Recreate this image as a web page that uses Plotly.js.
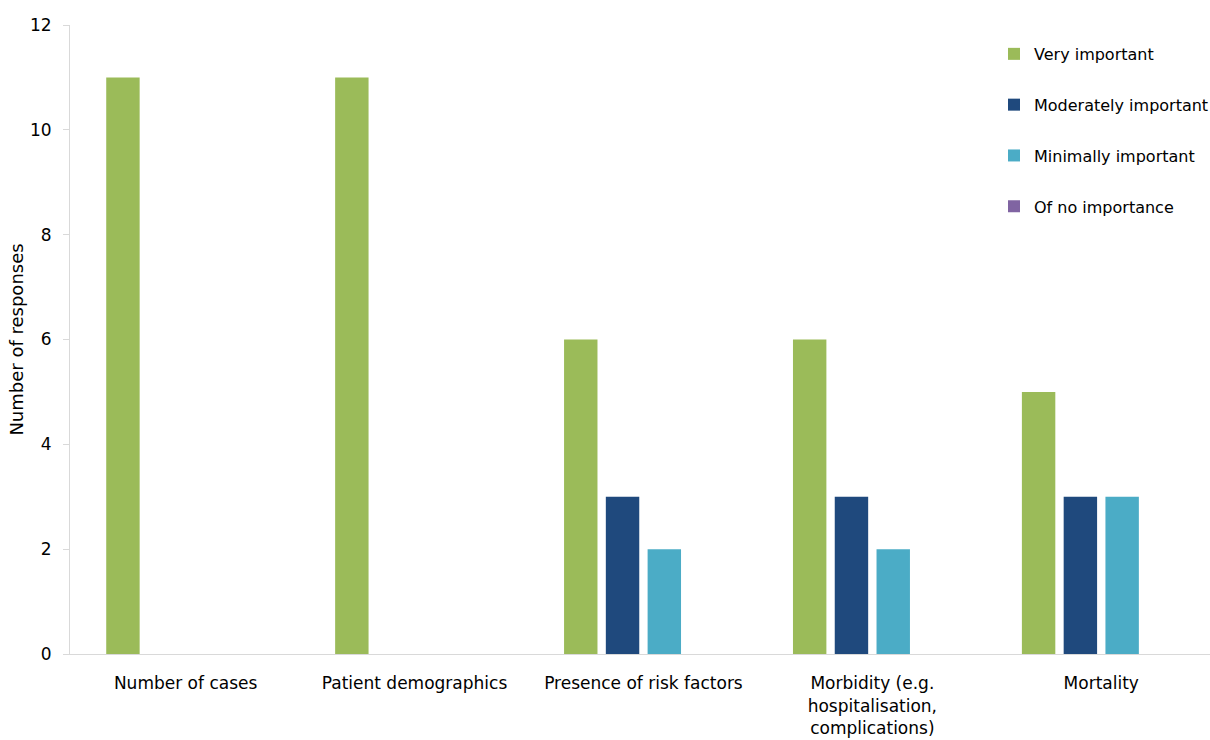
<!DOCTYPE html>
<html>
<head>
<meta charset="utf-8">
<script src="https://cdn.plot.ly/plotly-3.0.1.min.js"></script>
<style>html,body{margin:0;padding:0;background:#fff;}#chart{width:1210px;height:740px;}</style>
</head>
<body>
<div id="chart"></div>
<script>
const categories = ["Number of cases", "Patient demographics", "Presence of risk factors", "Morbidity (e.g.<br>hospitalisation,<br>complications)", "Mortality"];
const seriesNames = ["Very important", "Moderately important", "Minimally important", "Of no importance"];
const veryImportant = [11, 11, 6, 6, 5];
const moderatelyImportant = [0, 0, 3, 3, 3];
const minimallyImportant = [0, 0, 2, 2, 3];
const ofNoImportance = [0, 0, 0, 0, 0];
const yTicks = [0, 2, 4, 6, 8, 10, 12];

const colors = ["#9BBB59", "#1F497D", "#4BACC6", "#8064A2"];
const allSeries = [veryImportant, moderatelyImportant, minimallyImportant, ofNoImportance];
const FONT = "DejaVu Sans, Verdana, sans-serif";

const traces = allSeries.map((vals, i) => ({
  type: "bar",
  name: seriesNames[i],
  x: categories,
  y: vals,
  marker: {color: colors[i]},
  legendgroup: "g" + i,
  hoverinfo: "x+y+name"
}));

const layout = {
  width: 1210, height: 740,
  margin: {l: 70, r: 0, t: 25, b: 86, autoexpand: false},
  paper_bgcolor: "#fff", plot_bgcolor: "#fff",
  barmode: "group",
  bargap: 0.27,
  bargroupgap: 0.2,
  font: {family: FONT, size: 16, color: "#000"},
  xaxis: {
    showgrid: false, zeroline: false,
    showline: true, linecolor: "#d9d9d9", linewidth: 1,
    ticks: "", tickfont: {family: FONT, size: 17, color: "#000"},
    ticklabelstandoff: 14,
    range: [-0.505, 4.475]
  },
  yaxis: {
    range: [0, 12], tickvals: yTicks, ticktext: yTicks.map(String),
    showgrid: false, zeroline: false,
    showline: true, linecolor: "#d9d9d9", linewidth: 1,
    ticks: "outside", ticklen: 6, tickcolor: "#d9d9d9",
    ticklabelstandoff: 8,
    tickfont: {family: FONT, size: 17, color: "#000"},
    title: {text: "Number of responses", font: {family: FONT, size: 18, color: "#000"}, standoff: 1}
  },
  legend: {
    x: (994 - 70) / 1140, xanchor: "left", y: 0.981, yanchor: "top",
    bgcolor: "rgba(0,0,0,0)",
    font: {family: FONT, size: 16, color: "#000"},
    traceorder: "grouped", tracegroupgap: 27,
    itemwidth: 30
  },
  showlegend: true
};

Plotly.newPlot("chart", traces, layout, {displayModeBar: false, staticPlot: true});
</script>
</body>
</html>
